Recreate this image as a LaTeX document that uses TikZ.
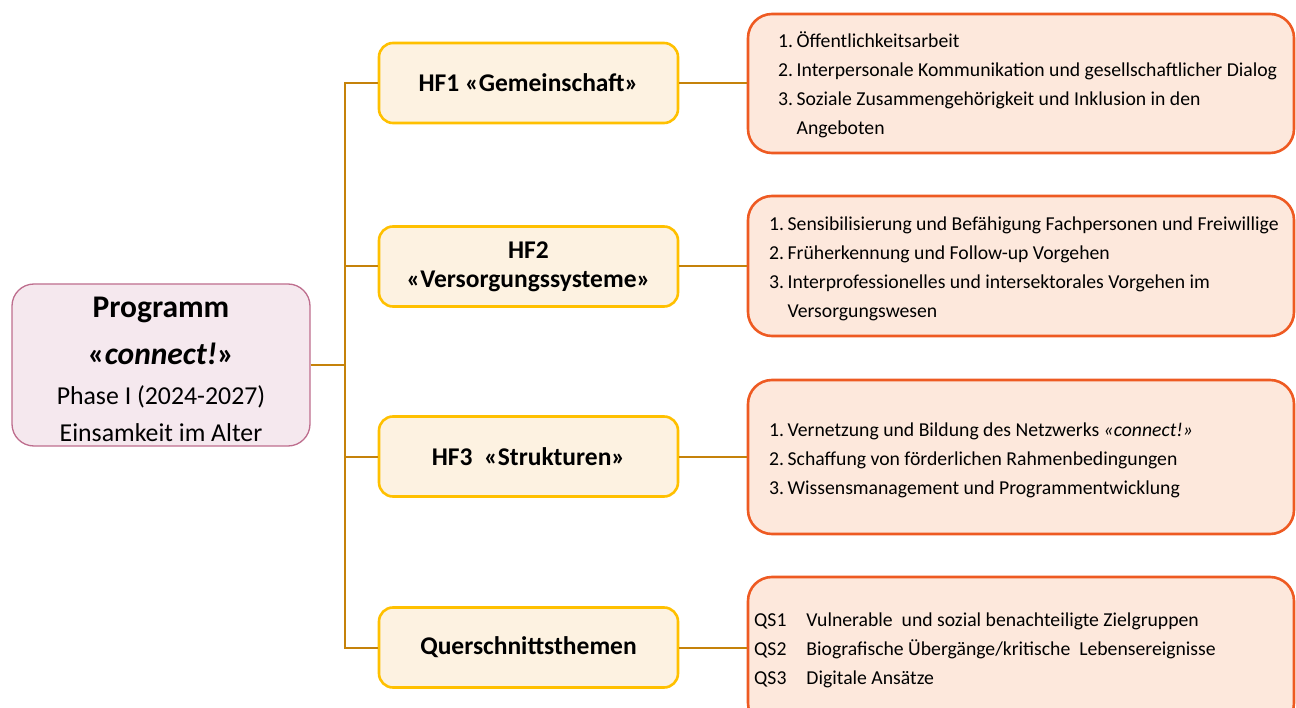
\documentclass[tikz,border=0pt]{standalone}
\usepackage{fontspec}
\setmainfont{Carlito}
\definecolor{mainfill}{HTML}{F5E8EE}
\definecolor{maindraw}{HTML}{BE6E8E}
\definecolor{hffill}{HTML}{FDF2E1}
\definecolor{hfdraw}{HTML}{FFC000}
\definecolor{rfill}{HTML}{FDE8DC}
\definecolor{rdraw}{HTML}{EE5A22}
\definecolor{conn}{HTML}{C5820A}
\tikzset{
  mainbox/.style={draw=maindraw, fill=mainfill, line width=1.3pt, rounded corners=22pt, minimum width=298pt, minimum height=162pt, inner sep=0pt},
  hfbox/.style={draw=hfdraw, fill=hffill, line width=2.6pt, rounded corners=14pt, minimum width=299pt, minimum height=80pt, inner sep=0pt, align=center, font=\fontsize{25.5}{29}\selectfont\bfseries},
  rbox/.style={draw=rdraw, fill=rfill, line width=2.6pt, rounded corners=24pt, inner sep=0pt},
  rtext/.style={anchor=west, inner sep=0pt, font=\fontsize{19.7}{29}\selectfont},
  maintext/.style={anchor=base, inner sep=0pt},
  link/.style={draw=conn, line width=2pt},
}
\begin{document}
\begin{tikzpicture}[x=1pt,y=-1pt]
\useasboundingbox (0,0) rectangle (1296,708);
\clip (0,0) rectangle (1296,708);
% main box
\node[mainbox] (main) at (161,365) {};
\node[maintext, font=\fontsize{31.5}{30}\selectfont\bfseries] (m1) at (161,318) {Programm};
\node[maintext, font=\fontsize{31.5}{30}\selectfont\bfseries] (m2) at (161,365) {«\textit{connect!}»};
\node[maintext, font=\fontsize{25.8}{30}\selectfont] (m3) at (161,405) {Phase I (2024-2027)};
\node[maintext, font=\fontsize{25.8}{30}\selectfont] (m4) at (161,442) {Einsamkeit im Alter};
% HF boxes
\node[hfbox] (hf1) at (528.5,83) {HF1 «Gemeinschaft»};
\node[hfbox] (hf2) at (528.5,266.5) {HF2\\«Versorgungssysteme»};
\node[hfbox] (hf3) at (528.5,456.5) {HF3\ \ «Strukturen»};
\node[hfbox] (qs) at (528.5,647.5) {Querschnittsthemen};
% right boxes
\node[rbox, minimum width=546pt, minimum height=139pt] (r1) at (1021,83.5) {};
\node[rbox, minimum width=546pt, minimum height=140pt] (r2) at (1021,266) {};
\node[rbox, minimum width=546pt, minimum height=154pt] (r3) at (1021,457) {};
\node[rbox, minimum width=546pt, minimum height=150pt] (r4) at (1021,652) {};
% texts
\node[rtext] (t1) at (778,85) {\begin{tabular}{@{}l@{\hspace{3.5pt}}l@{}}
1. & Öffentlichkeitsarbeit\\
2. & Interpersonale Kommunikation und gesellschaftlicher Dialog\\
3. & Soziale Zusammengehörigkeit und Inklusion in den\\
   & Angeboten
\end{tabular}};
\node[rtext] (t2) at (769,268) {\begin{tabular}{@{}l@{\hspace{3.5pt}}l@{}}
1. & Sensibilisierung und Befähigung Fachpersonen und Freiwillige\\
2. & Früherkennung und Follow-up Vorgehen\\
3. & Interprofessionelles und intersektorales Vorgehen im\\
   & Versorgungswesen
\end{tabular}};
\node[rtext] (t3) at (769,459.5) {\begin{tabular}{@{}l@{\hspace{3.5pt}}l@{}}
1. & Vernetzung und Bildung des Netzwerks \textit{«connect!»}\\
2. & Schaffung von förderlichen Rahmenbedingungen\\
3. & Wissensmanagement und Programmentwicklung
\end{tabular}};
\node[rtext] (t4) at (754,649.5) {\begin{tabular}{@{}l@{\hspace{20pt}}l@{}}
QS1 & Vulnerable \ und sozial benachteiligte Zielgruppen\\
QS2 & Biografische Übergänge/kritische \ Lebensereignisse\\
QS3 & Digitale Ansätze
\end{tabular}};
% connectors
\coordinate (j) at (345,365);
\draw[link] (main.east) -- (j);
\draw[link] (j) |- (hf1.west);
\draw[link] (j) |- (hf2.west);
\draw[link] (j) |- (hf3.west);
\draw[link] (j) |- (qs.west);
\draw[link] (hf1.east) -- (hf1.east -| r1.west);
\draw[link] (hf2.east) -- (hf2.east -| r2.west);
\draw[link] (hf3.east) -- (hf3.east -| r3.west);
\draw[link] (qs.east) -- (qs.east -| r4.west);
\end{tikzpicture}
\end{document}
